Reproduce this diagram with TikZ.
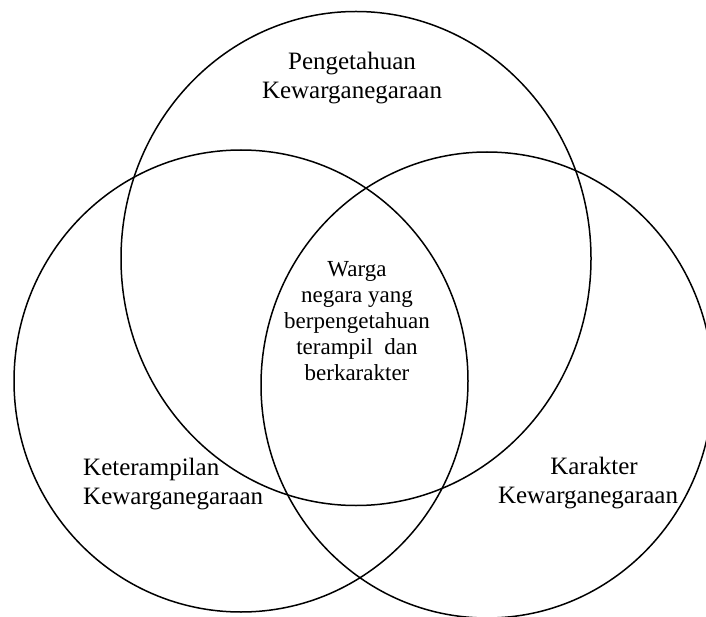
\documentclass[tikz,border=0pt]{standalone}
\usepackage{fontspec}
\setmainfont{Liberation Serif}
\tikzset{
  ring/.style={draw=black, line width=1.5pt},
  lbl/.style={font=\fontsize{25}{28.5}\selectfont, inner sep=0pt, align=center},
  lblc/.style={font=\fontsize{23}{25.8}\selectfont, inner sep=0pt, align=center},
}
\begin{document}
\begin{tikzpicture}[x=1pt,y=-1pt]
\useasboundingbox (0,0) rectangle (706,617);
\draw[ring] (356,258.5) ellipse [x radius=235pt, y radius=247pt];
\draw[ring] (241,381) ellipse [x radius=227pt, y radius=231pt];
\draw[ring] (487,385) ellipse [x radius=226pt, y radius=233pt];
\node[lbl] (know) at (352,78) {Pengetahuan\\Kewarganegaraan};
\node[lbl, align=left, anchor=west] (skill) at (83,484) {Keterampilan\\Kewarganegaraan};
\node[lbl] (char) at (588,483) {\hspace*{12pt}Karakter\\Kewarganegaraan};
\node[lblc] (citizen) at (357,321) {Warga\\negara yang\\berpengetahuan\\terampil\ \ dan\\berkarakter};
\end{tikzpicture}
\end{document}
